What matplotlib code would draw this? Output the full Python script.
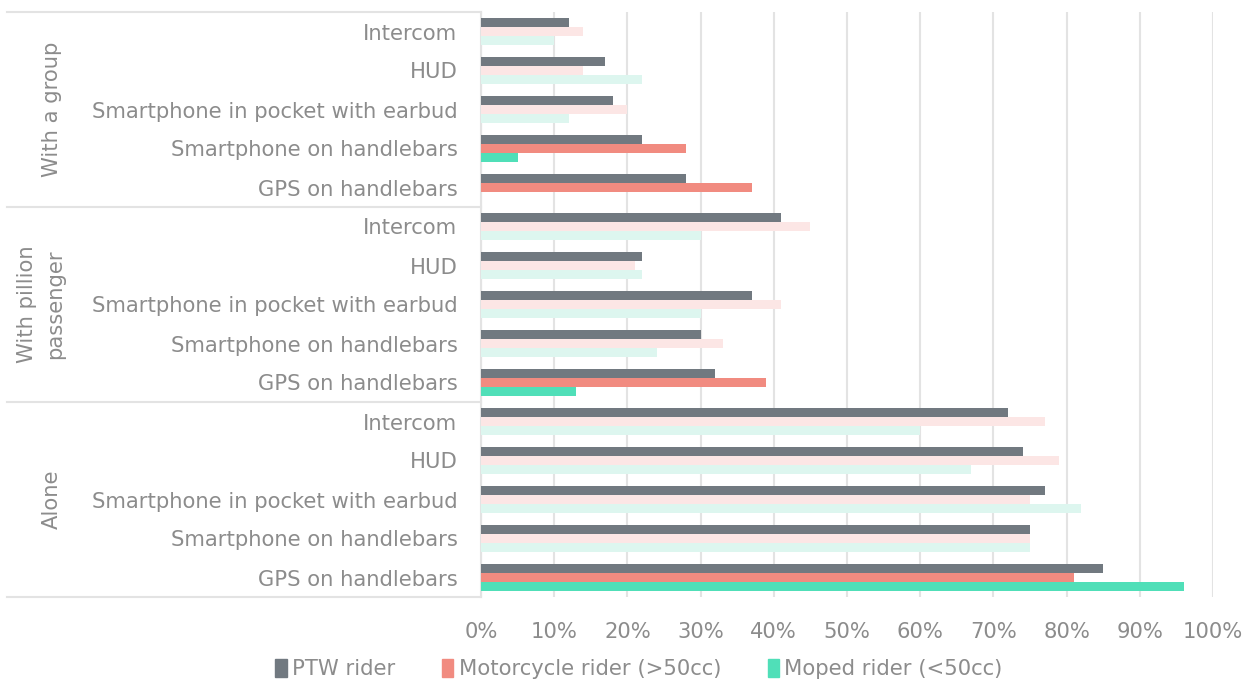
import matplotlib.pyplot as plt
import matplotlib.transforms as mtransforms
import numpy as np

# categories listed bottom-up inside each situation group
devices = ["GPS on handlebars", "Smartphone on handlebars",
           "Smartphone in pocket with earbud", "HUD", "Intercom"]
situations = ["Alone", "With pillion\npassenger", "With a group"]

# values in %, order: Alone (5), With pillion passenger (5), With a group (5)
ptw = [85, 75, 77, 74, 72,
       32, 30, 37, 22, 41,
       28, 22, 18, 17, 12]
motorcycle = [81, 75, 75, 79, 77,
              39, 33, 41, 21, 45,
              37, 28, 20, 14, 14]
moped = [96, 75, 82, 67, 60,
         13, 24, 30, 22, 30,
         0, 5, 12, 22, 10]
# 1 = highlighted (significant), 0 = faded
moto_sig = [1, 0, 0, 0, 0,
            1, 0, 0, 0, 0,
            1, 1, 0, 0, 0]
moped_sig = [1, 0, 0, 0, 0,
             1, 0, 0, 0, 0,
             0, 1, 0, 0, 0]

series = ["PTW rider", "Motorcycle rider (>50cc)", "Moped rider (<50cc)"]
c_ptw = "#717980"
c_moto, c_moto_light = "#f18b80", "#fce6e5"
c_moped, c_moped_light = "#50dfb8", "#ddf6ef"
grey_txt = "#8c8c8c"
line_col = "#e3e3e3"

plt.rcParams['font.family'] = ['DejaVu Sans']

fig = plt.figure(figsize=(12.53, 6.84), dpi=100)
ax = fig.add_axes([481 / 1253, 1 - 597 / 684, 732 / 1253, 585 / 684])

y = np.arange(len(ptw))
h = 0.23
ax.barh(y + h, ptw, height=h, color=c_ptw, label=series[0], zorder=3)
ax.barh(y, motorcycle, height=h, zorder=3,
        color=[c_moto if s else c_moto_light for s in moto_sig])
ax.barh(y - h, moped, height=h, zorder=3,
        color=[c_moped if s else c_moped_light for s in moped_sig])

ax.set_xlim(0, 100)
ax.set_ylim(-0.5, len(ptw) - 0.5)
ax.set_xticks(np.arange(0, 101, 10))
ax.set_xticklabels([f"{v}%" for v in range(0, 101, 10)])
ax.set_yticks(y)
ax.set_yticklabels(devices * 3)
ax.tick_params(axis='y', length=0, pad=17, labelsize=15.2, labelcolor=grey_txt)
ax.tick_params(axis='x', length=0, pad=18, labelsize=15.2, labelcolor=grey_txt)
ax.grid(axis='x', color=line_col, linewidth=1.5, zorder=0)
for s in ["top", "right", "bottom"]:
    ax.spines[s].set_visible(False)
ax.spines["left"].set_color(line_col)
ax.spines["left"].set_linewidth(1.5)

# group separators and labels on the left
tr = mtransforms.blended_transform_factory(fig.transFigure, ax.transData)
for b in [-0.5, 4.5, 9.5, 14.5]:
    ax.plot([7 / 1253, 481 / 1253], [b, b], color=line_col, lw=1.5,
            transform=tr, clip_on=False)
label_x = [52, 41, 52]
for i, name in enumerate(situations):
    ax.text(label_x[i] / 1253, i * 5 + 2, name, rotation=90, transform=tr,
            ha='center', va='center', fontsize=15.2, color=grey_txt,
            linespacing=1.55, multialignment='center')

# legend
handles = [plt.Rectangle((0, 0), 1, 1, color=c) for c in (c_ptw, c_moto, c_moped)]
fig.legend(handles, series, loc='lower center', bbox_to_anchor=(0.51, -0.015),
           ncol=3, frameon=False, fontsize=15.2, labelcolor=grey_txt,
           handlelength=0.55, handleheight=0.9, handletextpad=0.25,
           columnspacing=2.2, borderpad=0.2)

fig.savefig("out.png", dpi=100)
